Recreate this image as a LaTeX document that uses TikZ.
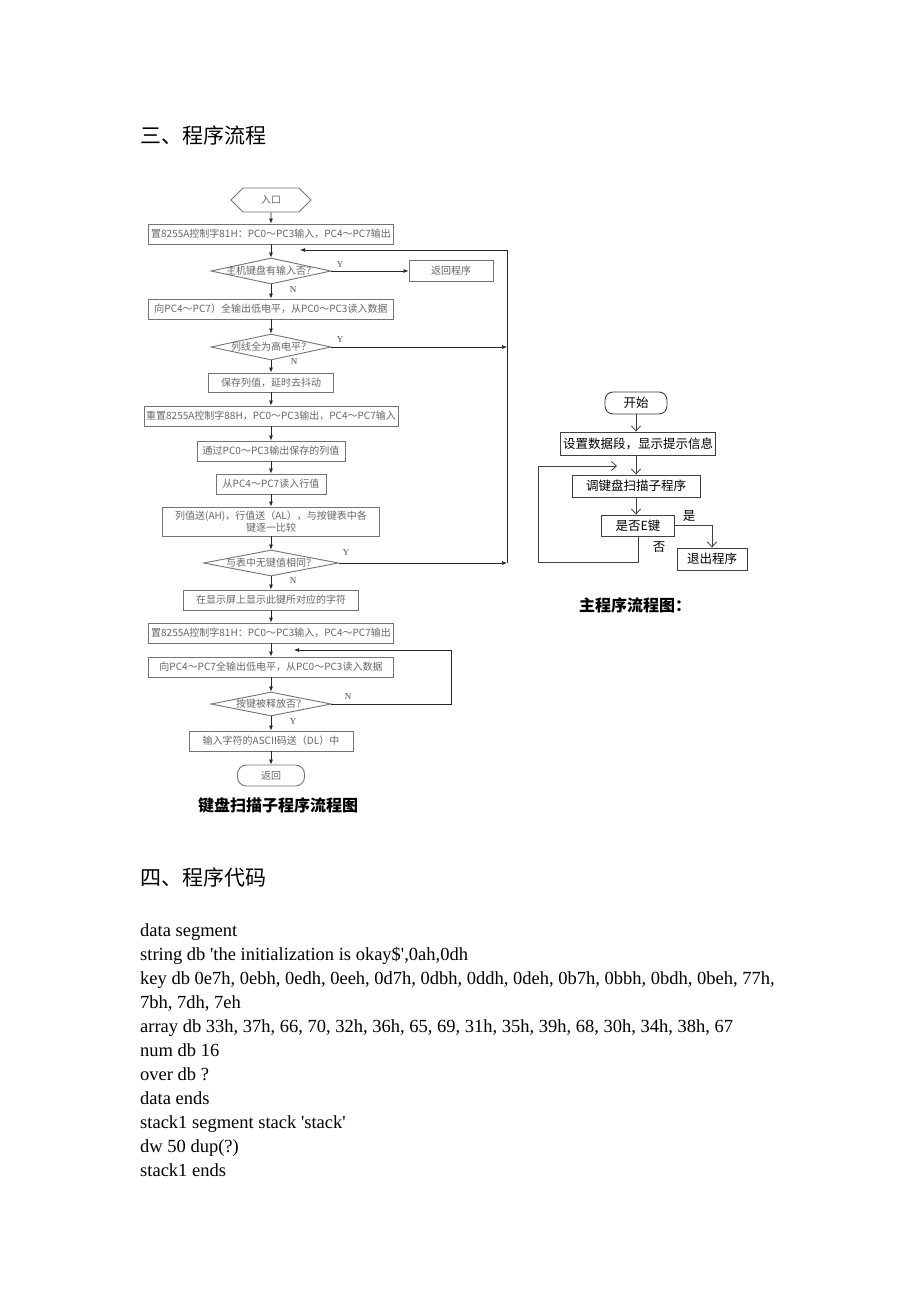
\documentclass[tikz,border=0pt]{standalone}
\usepackage{fontspec}
\setmainfont{Liberation Serif}
\newfontfamily\cjk{Noto Sans CJK SC}
\usetikzlibrary{shapes.geometric,shapes.symbols,arrows.meta}

\begin{document}
\begin{tikzpicture}[x=1pt,y=-1pt,
  every node/.style={font=\cjk\fontsize{10}{12}\selectfont,inner sep=0pt},
  proc/.style={shape=rectangle,draw=black!55,line width=0.9pt,text=black!60,minimum height=20pt},
  decide/.style={shape=diamond,draw=black!55,line width=0.9pt,text=black!60,aspect=5,text height=6pt,text depth=0pt,minimum width=120pt,minimum height=26pt},
  terminal/.style={shape=signal,signal to=west and east,draw=black!55,line width=0.9pt,text=black!60},
  flow/.style={-{Latex[length=5pt,width=4pt]},draw=black!85,line width=0.7pt},
  lbl/.style={font=\rmfamily\fontsize{9}{10}\selectfont,text=black!70},
  mproc/.style={shape=rectangle,draw=black!75,line width=0.9pt,font=\cjk\fontsize{12.5}{14}\selectfont,minimum height=22pt},
  mflow/.style={-{Straight Barb[length=5pt,width=9pt]},draw=black!75,line width=0.8pt},
  mlbl/.style={font=\cjk\fontsize{12.5}{14}\selectfont},
  caption/.style={font=\cjk\bfseries\fontsize{16}{18}\selectfont},
  heading/.style={font=\cjk\fontsize{21}{24}\selectfont,anchor=west},
  code/.style={font=\rmfamily\fontsize{18.5}{22}\selectfont,anchor=west,text height=13pt,text depth=4pt}]
\fill [white] (0,0) rectangle (920,1302);
\useasboundingbox (0,0) rectangle (920,1302);

\path (140,135) node (head3) [heading] {三、程序流程};

% keyboard scan subroutine
\path (271,200) node (entry) [terminal,minimum width=80pt,minimum height=24pt] {入口};
\path (271,234) node (init) [proc,minimum width=245pt] {置8255A控制字81H：PC0～PC3输入，PC4～PC7输出};
\path (271,271) node (keyq) [decide] {主机键盘有输入否？};
\path (451,271) node (ret) [proc,minimum width=84pt,minimum height=21pt] {返回程序};
\path (271,309) node (lowout) [proc,minimum width=245pt] {向PC4～PC7）全输出低电平，从PC0～PC3读入数据};
\path (271,347) node (colq) [decide] {列线全为高电平？};
\path (271,382.5) node (save) [proc,minimum width=125pt,minimum height=19pt] {保存列值，延时去抖动};
\path (271,416) node (reset) [proc,minimum width=254pt] {重置8255A控制字88H，PC0～PC3输出，PC4～PC7输入};
\path (271,451) node (outcol) [proc,minimum width=148pt] {通过PC0～PC3输出保存的列值};
\path (271,484) node (readrow) [proc,minimum width=110pt] {从PC4～PC7读入行值};
\path (271,521.5) node (cmp) [proc,minimum width=217pt,minimum height=29pt,align=center] {列值送(AH)，行值送（AL），与按键表中各\\键逐一比较};
\path (271,563) node (tabq) [decide,minimum width=135pt] {与表中无键值相同？};
\path (271,600) node (show) [proc,minimum width=175pt] {在显示屏上显示此键所对应的字符};
\path (271,633) node (init2) [proc,minimum width=245pt] {置8255A控制字81H：PC0～PC3输入，PC4～PC7输出};
\path (271,667) node (lowout2) [proc,minimum width=245pt] {向PC4～PC7全输出低电平，从PC0～PC3读入数据};
\path (271,704) node (relq) [decide,minimum height=24pt] {按键被释放否？};
\path (271,741) node (ascii) [proc,minimum width=164pt] {输入字符的ASCII码送（DL）中};
\path (271,775.5) node (back) [proc,rounded corners=9pt,minimum width=67pt,minimum height=21pt] {返回};
\path (278,805) node (subcap) [caption] {键盘扫描子程序流程图};

\path (340,265) node (ykey) [lbl] {Y};
\path (293,290) node (nkey) [lbl] {N};
\path (340,340) node (ycol) [lbl] {Y};
\path (294,362) node (ncol) [lbl] {N};
\path (346,553) node (ytab) [lbl] {Y};
\path (293,581) node (ntab) [lbl] {N};
\path (348,697) node (nrel) [lbl] {N};
\path (293,722) node (yrel) [lbl] {Y};

\coordinate (rtop) at (507,250);
\coordinate (rbot) at (507,563);
\coordinate (backin) at (300,250);
\coordinate (relr) at (451,704);
\coordinate (relt) at (451,650);
\coordinate (relin) at (294,650);

\draw [flow] (entry) -- (init);
\draw [flow] (init) -- (keyq);
\draw [flow] (keyq) -- (ret);
\draw [flow] (keyq) -- (lowout);
\draw [flow] (lowout) -- (colq);
\draw [flow] (colq) -- (save);
\draw [flow] (save) -- (reset);
\draw [flow] (reset) -- (outcol);
\draw [flow] (outcol) -- (readrow);
\draw [flow] (readrow) -- (cmp);
\draw [flow] (cmp) -- (tabq);
\draw [flow] (tabq) -- (show);
\draw [flow] (show) -- (init2);
\draw [flow] (init2) -- (lowout2);
\draw [flow] (lowout2) -- (relq);
\draw [flow] (relq) -- (ascii);
\draw [flow] (ascii) -- (back);
\draw [flow] (colq.east) -- (colq.east -| rtop);
\draw [flow] (tabq.east) -- (rbot);
\draw [flow] (rbot) -- (rtop) -- (backin);
\draw [flow] (relq.east) -- (relr) -- (relt) -- (relin);

% main program
\path (636,403) node (start) [mproc,rounded corners=8pt,minimum width=62pt] {开始};
\path (638,443.5) node (setup) [mproc,minimum width=155pt,minimum height=23pt] {设置数据段，显示提示信息};
\path (636,486) node (call) [mproc,minimum width=128pt] {调键盘扫描子程序};
\path (638,525.5) node (isE) [mproc,minimum width=73pt,minimum height=21pt] {是否E键};
\path (712,559) node (quit) [mproc,minimum width=70pt] {退出程序};
\path (689,516) node (yes) [mlbl] {是};
\path (659,547) node (no) [mlbl] {否};
\path (635,605) node (maincap) [caption] {主程序流程图：};

\coordinate (nob) at (638,562);
\coordinate (nol) at (538,562);
\coordinate (nolt) at (538,466);
\coordinate (noin) at (617,466);

\draw [mflow] (start.south) -- (start.south |- setup.north);
\draw [mflow] (call.north |- setup.south) -- (call.north);
\draw [mflow] (call.south) -- (call.south |- isE.north);
\draw [mflow] (isE.east) -| (quit.north);
\draw [mflow] (isE.south) -- (nob) -- (nol) -- (nolt) -- (noin);

% program code
\path (140,877) node (head4) [heading] {四、程序代码};
\path (140,932) node (code1) [code] {data segment};
\path (140,956) node (code2) [code] {string db \textquotesingle the initialization is okay\$\textquotesingle,0ah,0dh};
\path (140,980) node (code3) [code] {key db 0e7h, 0ebh, 0edh, 0eeh, 0d7h, 0dbh, 0ddh, 0deh, 0b7h, 0bbh, 0bdh, 0beh, 77h,};
\path (140,1004) node (code4) [code] {7bh, 7dh, 7eh};
\path (140,1028) node (code5) [code] {array db 33h, 37h, 66, 70, 32h, 36h, 65, 69, 31h, 35h, 39h, 68, 30h, 34h, 38h, 67};
\path (140,1052) node (code6) [code] {num db 16};
\path (140,1076) node (code7) [code] {over db ?};
\path (140,1100) node (code8) [code] {data ends};
\path (140,1124) node (code9) [code] {stack1 segment stack \textquotesingle stack\textquotesingle};
\path (140,1148) node (code10) [code] {dw 50 dup(?)};
\path (140,1172) node (code11) [code] {stack1 ends};
\end{tikzpicture}
\end{document}
